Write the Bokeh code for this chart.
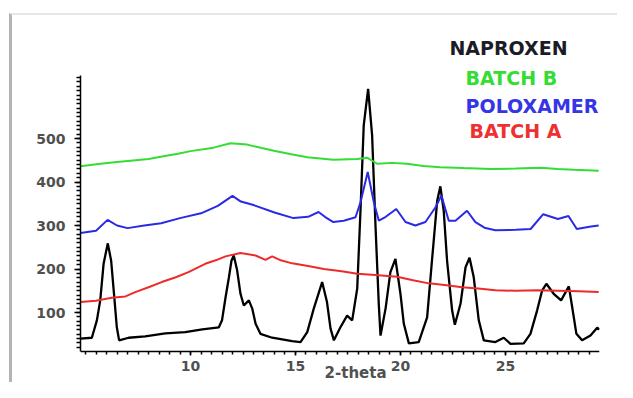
from bokeh.plotting import figure
from bokeh.models import FixedTicker, Label, Range1d, InlineStyleSheet
from bokeh.embed import file_html
from bokeh.resources import INLINE

# ---- data ----
nap_x = [4.76, 5.3, 5.54, 5.70, 5.86, 6.06, 6.22, 6.37, 6.49, 6.60, 7.05, 7.84, 8.8, 9.75, 10.56, 11.35, 11.5,
         11.67, 11.83, 11.95, 12.06, 12.22, 12.38, 12.54, 12.78, 12.94, 13.1, 13.33, 13.89, 14.84, 15.24, 15.56,
         15.87, 16.27, 16.5, 16.67, 16.83, 17.14, 17.46, 17.7, 17.94, 18.1, 18.25, 18.46, 18.65, 18.81, 18.97,
         19.05, 19.29, 19.52, 19.76, 20.0, 20.16, 20.4, 20.87, 21.27, 21.5, 21.75, 21.9, 22.06, 22.22, 22.46,
         22.59, 22.86, 23.1, 23.29, 23.49, 23.73, 23.97, 24.52, 24.92, 25.24, 25.87, 26.19, 26.51, 26.75, 26.95,
         27.3, 27.65, 28.02, 28.18, 28.38, 28.65, 29.05, 29.37, 29.48]
nap_y = [40, 42, 82, 128, 212, 259, 219, 135, 66, 36, 42, 45, 52, 55, 61, 66, 82, 135, 181, 219, 231, 197, 143,
         116, 128, 109, 74, 51, 42, 34, 32, 55, 109, 170, 124, 63, 36, 66, 93, 82, 155, 339, 530, 614, 507, 300,
         116, 47, 109, 193, 223, 143, 74, 29, 32, 89, 219, 357, 390, 334, 219, 105, 72, 120, 204, 226, 181, 82,
         36, 32, 42, 28, 29, 51, 105, 151, 166, 143, 128, 160, 112, 51, 36, 47, 65, 61]

grn_x = [4.76, 5.71, 6.5, 7.14, 8.0, 8.71, 9.4, 10.0, 11.1, 11.9, 12.7, 13.4, 13.97, 14.8, 15.56, 16.8, 17.94,
         18.41, 18.89, 19.6, 20.3, 21.1, 21.9, 23.0, 24.3, 25.5, 26.67, 27.5, 28.25, 29.44]
grn_y = [436, 442, 446, 449, 453, 459, 465, 471, 479, 489, 486, 478, 472, 464, 457, 451, 453, 456, 442, 444, 442,
         437, 434, 432, 430, 431, 433, 430, 428, 426]

blu_x = [4.76, 5.5, 6.05, 6.5, 7.0, 7.8, 8.6, 9.5, 10.5, 11.3, 12.0, 12.4, 13.0, 14.0, 14.9, 15.6, 16.1, 16.4,
         16.8, 17.3, 17.86, 18.1, 18.44, 18.73, 18.97, 19.3, 19.8, 20.24, 20.71, 21.19, 21.67, 21.95, 22.3,
         22.62, 23.17, 23.57, 24.0, 24.52, 25.5, 26.2, 26.8, 27.5, 28.0, 28.4, 29.0, 29.44]
blu_y = [283, 288, 313, 300, 294, 300, 305, 317, 328, 345, 368, 355, 347, 330, 317, 320, 331, 320, 308, 311, 319,
         354, 423, 354, 311, 320, 338, 308, 300, 308, 342, 369, 311, 311, 334, 308, 295, 289, 290, 292, 326, 315,
         322, 292, 297, 300]

red_x = [4.76, 5.5, 6.24, 6.9, 7.37, 8.0, 8.63, 9.3, 9.9, 10.7, 11.2, 11.67, 12.38, 13.1, 13.57, 13.89, 14.3,
         14.84, 15.6, 16.35, 17.2, 17.94, 18.8, 19.84, 20.6, 21.35, 22.1, 22.94, 23.7, 24.52, 25.5, 26.5, 27.5,
         28.5, 29.44]
red_y = [124, 127, 134, 137, 147, 158, 170, 181, 193, 212, 220, 229, 237, 231, 221, 229, 220, 213, 207, 200, 195,
         189, 186, 182, 174, 167, 163, 158, 155, 151, 150, 151, 150, 149, 147]

x_ticks = [10, 15, 20, 25]
x_minor = [5 + 0.5 * i for i in range(50)]
y_ticks = [100, 200, 300, 400, 500]
y_minor = list(range(20, 650, 10))
y_axis_min, y_axis_max = 10.3, 645

legend_names = ["NAPROXEN", "BATCH B", "POLOXAMER", "BATCH A"]
legend_colors = ["#1c1c28", "#33dd33", "#3535e6", "#ee3030"]
legend_x = [22.33, 23.1, 23.1, 23.29]
legend_y = [707, 638, 574, 518]

x_label = "2-theta"
x_label_pos = (17.86, -40)

frame_css = InlineStyleSheet(css="""
:host { position: relative; }
:host::after {
  content: ''; position: absolute; left: 9px; top: 13px;
  width: calc(100% - 9px); height: calc(100% - 13px);
  box-sizing: border-box;
  border-left: 3px solid #b4b4b4;
  border-top: 2px solid #e6e6e6;
  pointer-events: none; z-index: 10;
}
""")

# ---- figure ----
p = figure(width=617, height=382, x_range=Range1d(4.76, 29.48), y_range=Range1d(-60.9, 780.5),
           output_backend="svg", toolbar_location=None,
           min_border_left=80, min_border_right=18, min_border_top=16, min_border_bottom=0,
           stylesheets=[frame_css])
p.outline_line_color = None
p.grid.visible = False
p.background_fill_color = "white"
p.border_fill_color = "white"

p.line(nap_x, nap_y, line_color="black", line_width=2.3)
p.line(red_x, red_y, line_color="#ee2b2b", line_width=2)
p.line(blu_x, blu_y, line_color="#2a2ae6", line_width=2)
p.line(grn_x, grn_y, line_color="#33dd33", line_width=2)

for ax in (p.xaxis[0], p.yaxis[0]):
    ax.axis_line_color = "black"
    ax.axis_line_width = 1.5
    ax.major_tick_line_color = "black"
    ax.minor_tick_line_color = "black"
    ax.major_tick_line_width = 1.5
    ax.minor_tick_line_width = 1.5
    ax.major_tick_in = 0
    ax.minor_tick_in = 0
    ax.major_label_text_font = "DejaVu Sans"
    ax.major_label_text_font_style = "bold"
    ax.major_label_text_font_size = "14px"
    ax.major_label_text_color = "#505050"

p.xaxis.ticker = FixedTicker(ticks=x_ticks, minor_ticks=x_minor)
p.xaxis.fixed_location = y_axis_min
p.xaxis.major_tick_out = 4
p.xaxis.minor_tick_out = 3
p.xaxis.major_label_standoff = 5

p.yaxis.ticker = FixedTicker(ticks=y_ticks, minor_ticks=y_minor)
p.yaxis.bounds = (y_axis_min, y_axis_max)
p.yaxis.major_tick_out = 6
p.yaxis.minor_tick_out = 4
p.yaxis.major_label_standoff = 9

for name, col, lx, ly in zip(legend_names, legend_colors, legend_x, legend_y):
    p.add_layout(Label(x=lx, y=ly, text=name, text_color=col, text_font="DejaVu Sans",
                       text_font_style="bold", text_font_size="19px", text_baseline="alphabetic"))

p.add_layout(Label(x=x_label_pos[0], y=x_label_pos[1], text=x_label, text_color="#505050",
                   text_font="DejaVu Sans", text_font_style="bold", text_font_size="15px",
                   text_align="center", text_baseline="alphabetic"))

open("out.html", "w").write(file_html(p, INLINE))
